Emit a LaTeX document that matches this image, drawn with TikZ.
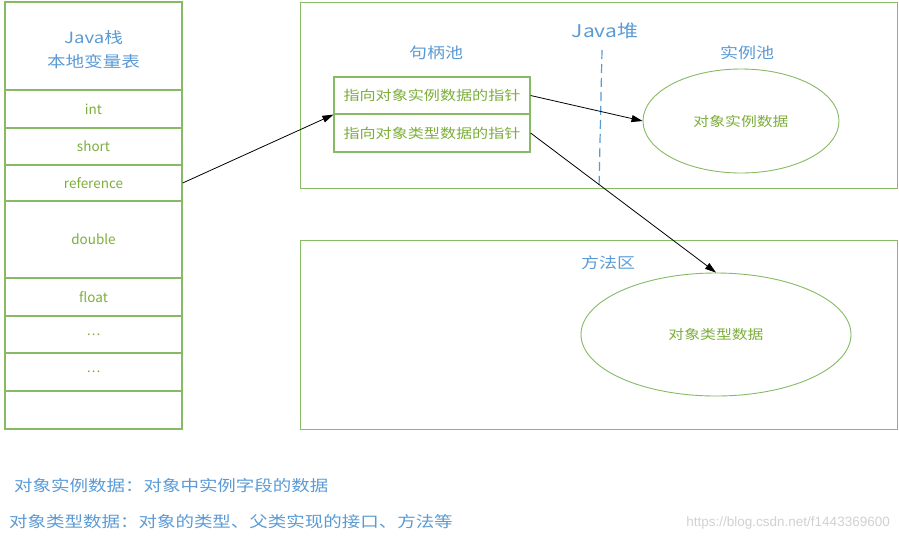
\documentclass[tikz,border=0pt]{standalone}
\usepackage{fontspec}
\newfontfamily\cjk[FakeStretch=1.2]{Noto Sans CJK SC}
\newfontfamily\lat{Noto Sans CJK SC}
\newfontfamily\wmfont{Liberation Sans}
\usetikzlibrary{shapes.geometric,arrows.meta}
\definecolor{lblue}{HTML}{5B9BD5}
\definecolor{gtext}{HTML}{7DAE3C}
\definecolor{gline}{HTML}{86BA64}
\begin{document}
\begin{tikzpicture}[x=1pt,y=-1pt,
  cell/.style={draw=gline,line width=1.3pt,inner sep=0pt,minimum width=177pt,text=gtext,font=\lat\fontsize{13.5}{15}\selectfont},
  area/.style={draw=gline,line width=1.3pt,inner sep=0pt,anchor=north west},
  hbox/.style={draw=gline,line width=1.2pt,inner sep=0pt,minimum width=196pt,text=gtext,font=\cjk\fontsize{13.4}{16}\selectfont},
  oval/.style={ellipse,draw=gline,line width=0.9pt,inner sep=0pt,text=gtext,font=\cjk\fontsize{13.2}{16}\selectfont},
  blbl/.style={text=lblue,inner sep=0pt,font=\cjk\fontsize{15}{24}\selectfont},
  note/.style={text=lblue,inner sep=0pt,anchor=west,font=\cjk\fontsize{15.4}{18}\selectfont},
  arr/.style={-{Triangle[length=11pt,width=7pt]},line width=0.8pt,black}]
\useasboundingbox[fill=white] (0,0) rectangle (899,542);
% Java stack
\node[cell,minimum height=88pt,text=lblue] (hdr) at (93.5,46) {};
\node[blbl,font=\cjk\fontsize{15.5}{24}\selectfont] (hdr1) at (93.5,38) {Java栈};
\node[blbl,font=\cjk\fontsize{15.5}{24}\selectfont] (hdr2) at (93.5,62) {本地变量表};
\node[cell,minimum height=38pt] (int) at (93.5,109) {int};
\node[cell,minimum height=37pt] (short) at (93.5,146.5) {short};
\node[cell,minimum height=36pt] (ref) at (93.5,183) {reference};
\node[cell,minimum height=77pt] (dbl) at (93.5,239.5) {double};
\node[cell,minimum height=38pt] (flt) at (93.5,297) {float};
\node[cell,minimum height=37pt,font=\lat\fontsize{13}{15}\selectfont] (dots1) at (93.5,334.5) {…};
\node[cell,minimum height=38pt,font=\lat\fontsize{13}{15}\selectfont] (dots2) at (93.5,372) {…};
\node[cell,minimum height=38pt] (empty) at (93.5,410) {};
% heap
\node[area,minimum width=597pt,minimum height=186pt] (heap) at (300,2) {};
\node[blbl,font=\cjk\fontsize{17.5}{20}\selectfont] (heaplbl) at (605,31) {Java堆};
\node[blbl] (hpool) at (436,53) {句柄池};
\node[blbl] (ipool) at (747,53) {实例池};
\coordinate (dtop) at (602,50);
\coordinate (dbot) at (599,188);
\draw[lblue,line width=1.2pt,dash pattern=on 9pt off 5pt] (dtop) -- (dbot);
\node[hbox,minimum height=37pt] (h1) at (432,95.5) {指向对象实例数据的指针};
\node[hbox,minimum height=38pt] (h2) at (432,133) {指向对象类型数据的指针};
\node[oval,minimum width=196pt,minimum height=104pt] (e1) at (741,121) {对象实例数据};
% method area
\node[area,minimum width=597pt,minimum height=189pt] (meth) at (300,240) {};
\node[blbl] (mlbl) at (608,263) {方法区};
\node[oval,minimum width=270pt,minimum height=123pt] (e2) at (716,334.5) {对象类型数据};
% arrows
\draw[arr] (ref.east) -- (h1.south west);
\draw[arr] (h1.east) -- (e1.west);
\draw[arr] (h2.east) -- (e2.north);
% notes
\node[note] (n1) at (14,486) {对象实例数据：对象中实例字段的数据};
\node[note] (n2) at (9,522) {对象类型数据：对象的类型、父类实现的接口、方法等};
\node[inner sep=0pt,anchor=east,text=black!18,font=\wmfont\fontsize{13.5}{16}\selectfont] (wm) at (890,523) {https://blog.csdn.net/f1443369600};
\end{tikzpicture}
\end{document}
